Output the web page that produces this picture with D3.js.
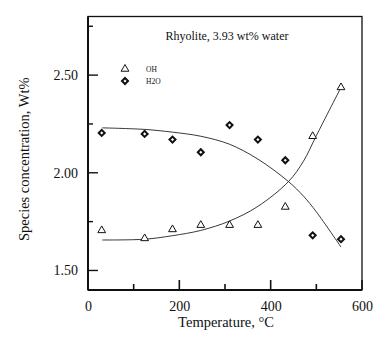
<!DOCTYPE html>
<html>
<head>
<meta charset="utf-8">
<script src="https://cdn.jsdelivr.net/npm/d3@7"></script>
<style>
  html, body { margin: 0; padding: 0; background: #fff; }
  svg { display: block; }
  text { font-family: "Liberation Serif", "Times New Roman", serif; fill: #111; }
</style>
</head>
<body>
<svg id="chart" width="387" height="339"></svg>
<script>
// Measured temperatures (°C)
const temperature = [30, 124, 185, 247, 310, 372, 432, 492, 554];
// Species concentrations (wt%)
const ohValues  = [1.705, 1.664, 1.71, 1.732, 1.732, 1.732, 1.825, 2.187, 2.437];
const h2oValues = [2.204, 2.199, 2.17, 2.105, 2.244, 2.17, 2.064, 1.68, 1.66];

// Fitted model curves
const fitTemperature = [31, 124, 185, 247, 310, 372, 439, 472, 500, 554];
const ohFit  = [1.656, 1.66, 1.678, 1.705, 1.753, 1.828, 1.955, 2.06, 2.19, 2.437];
const h2oFit = [2.23, 2.222, 2.208, 2.187, 2.146, 2.07, 1.955, 1.88, 1.80, 1.62];

const xTicks = [0, 100, 200, 300, 400, 500, 600];
const xTickLabels = ["0", "", "200", "", "400", "", "600"];
const yTicks = [1.50, 1.75, 2.00, 2.25, 2.50, 2.75];
const yTickLabels = ["1.50", "", "2.00", "", "2.50", ""];

const svg = d3.select("#chart");
const plotLeft = 88, plotRight = 362, plotTop = 16.5, plotBottom = 290;

const x = d3.scaleLinear().domain([0, 600]).range([plotLeft, plotRight]);
const y = d3.scaleLinear().domain([1.4, 2.8]).range([plotBottom, plotTop]);

// frame
svg.append("rect")
  .attr("x", plotLeft).attr("y", plotTop)
  .attr("width", plotRight - plotLeft).attr("height", plotBottom - plotTop)
  .attr("fill", "none").attr("stroke", "#111").attr("stroke-width", 1.3);
svg.append("line").attr("x1", plotLeft).attr("x2", plotLeft).attr("y1", plotTop).attr("y2", plotBottom)
  .attr("stroke", "#111").attr("stroke-width", 2);
svg.append("line").attr("x1", plotLeft).attr("x2", plotRight).attr("y1", plotBottom).attr("y2", plotBottom)
  .attr("stroke", "#111").attr("stroke-width", 2);

// x axis: ticks point inward
const xAxis = d3.axisBottom(x).tickValues(xTicks)
  .tickSize(0).tickFormat((d, i) => xTickLabels[i]);
const gx = svg.append("g").attr("transform", `translate(0,${plotBottom})`).call(xAxis);
gx.select(".domain").remove();
gx.selectAll("text").attr("font-size", 14).attr("dy", "1.25em");
xTicks.forEach((d, i) => {
  if (d === 0) return;
  const len = xTickLabels[i] ? 10 : 6;
  svg.append("line").attr("x1", x(d)).attr("x2", x(d))
    .attr("y1", plotBottom).attr("y2", plotBottom - len)
    .attr("stroke", "#111").attr("stroke-width", 1.6);
});

// y axis: ticks point inward
const yAxis = d3.axisLeft(y).tickValues(yTicks)
  .tickSize(0).tickPadding(10).tickFormat((d, i) => yTickLabels[i]);
const gy = svg.append("g").attr("transform", `translate(${plotLeft},0)`).call(yAxis);
gy.select(".domain").remove();
gy.selectAll("text").attr("font-size", 14);
yTicks.forEach((d, i) => {
  const len = yTickLabels[i] ? 10 : 5;
  svg.append("line").attr("x1", plotLeft).attr("x2", plotLeft + len)
    .attr("y1", y(d)).attr("y2", y(d))
    .attr("stroke", "#111").attr("stroke-width", 1.4);
});

// axis titles
svg.append("text").attr("x", 226).attr("y", 327)
  .attr("text-anchor", "middle").attr("font-size", 14.5)
  .text("Temperature, °C");
svg.append("text")
  .attr("transform", `translate(29,${(plotTop + plotBottom) / 2 + 6}) rotate(-90)`)
  .attr("text-anchor", "middle").attr("font-size", 14.5)
  .text("Species concentration, Wt%");

// title
svg.append("text").attr("x", 227).attr("y", 40)
  .attr("text-anchor", "middle").attr("font-size", 12)
  .text("Rhyolite, 3.93 wt% water");

// fitted curves
const line = d3.line().curve(d3.curveCatmullRom.alpha(0.5));
svg.append("path")
  .attr("d", line(fitTemperature.map((t, i) => [x(t), y(ohFit[i])])))
  .attr("fill", "none").attr("stroke", "#222").attr("stroke-width", 0.9);
svg.append("path")
  .attr("d", line(fitTemperature.map((t, i) => [x(t), y(h2oFit[i])])))
  .attr("fill", "none").attr("stroke", "#222").attr("stroke-width", 0.9);

// markers: open triangles for OH, square diamonds for H2O
const tri = d3.symbol().type(d3.symbolTriangle).size(26);
const dia = d3.symbol().type(d3.symbolSquare).size(18);

svg.append("g").selectAll("path").data(temperature).join("path")
  .attr("d", tri)
  .attr("transform", (t, i) => `translate(${x(t)},${y(ohValues[i])})`)
  .attr("fill", "#fff").attr("stroke", "#111").attr("stroke-width", 1);

svg.append("g").selectAll("path").data(temperature).join("path")
  .attr("d", dia)
  .attr("transform", (t, i) => `translate(${x(t)},${y(h2oValues[i])}) rotate(45)`)
  .attr("fill", "#fff").attr("stroke", "#111").attr("stroke-width", 2);

// legend
const legend = svg.append("g").attr("transform", "translate(125,69)");
legend.append("path").attr("d", tri)
  .attr("fill", "#fff").attr("stroke", "#111").attr("stroke-width", 1);
legend.append("text").attr("x", 21).attr("y", 2.5).attr("font-size", 7.5).text("OH");
legend.append("path").attr("d", dia).attr("transform", "translate(0,12) rotate(45)")
  .attr("fill", "#fff").attr("stroke", "#111").attr("stroke-width", 2);
legend.append("text").attr("x", 21).attr("y", 14.5).attr("font-size", 7.5).text("H2O");
</script>
</body>
</html>
